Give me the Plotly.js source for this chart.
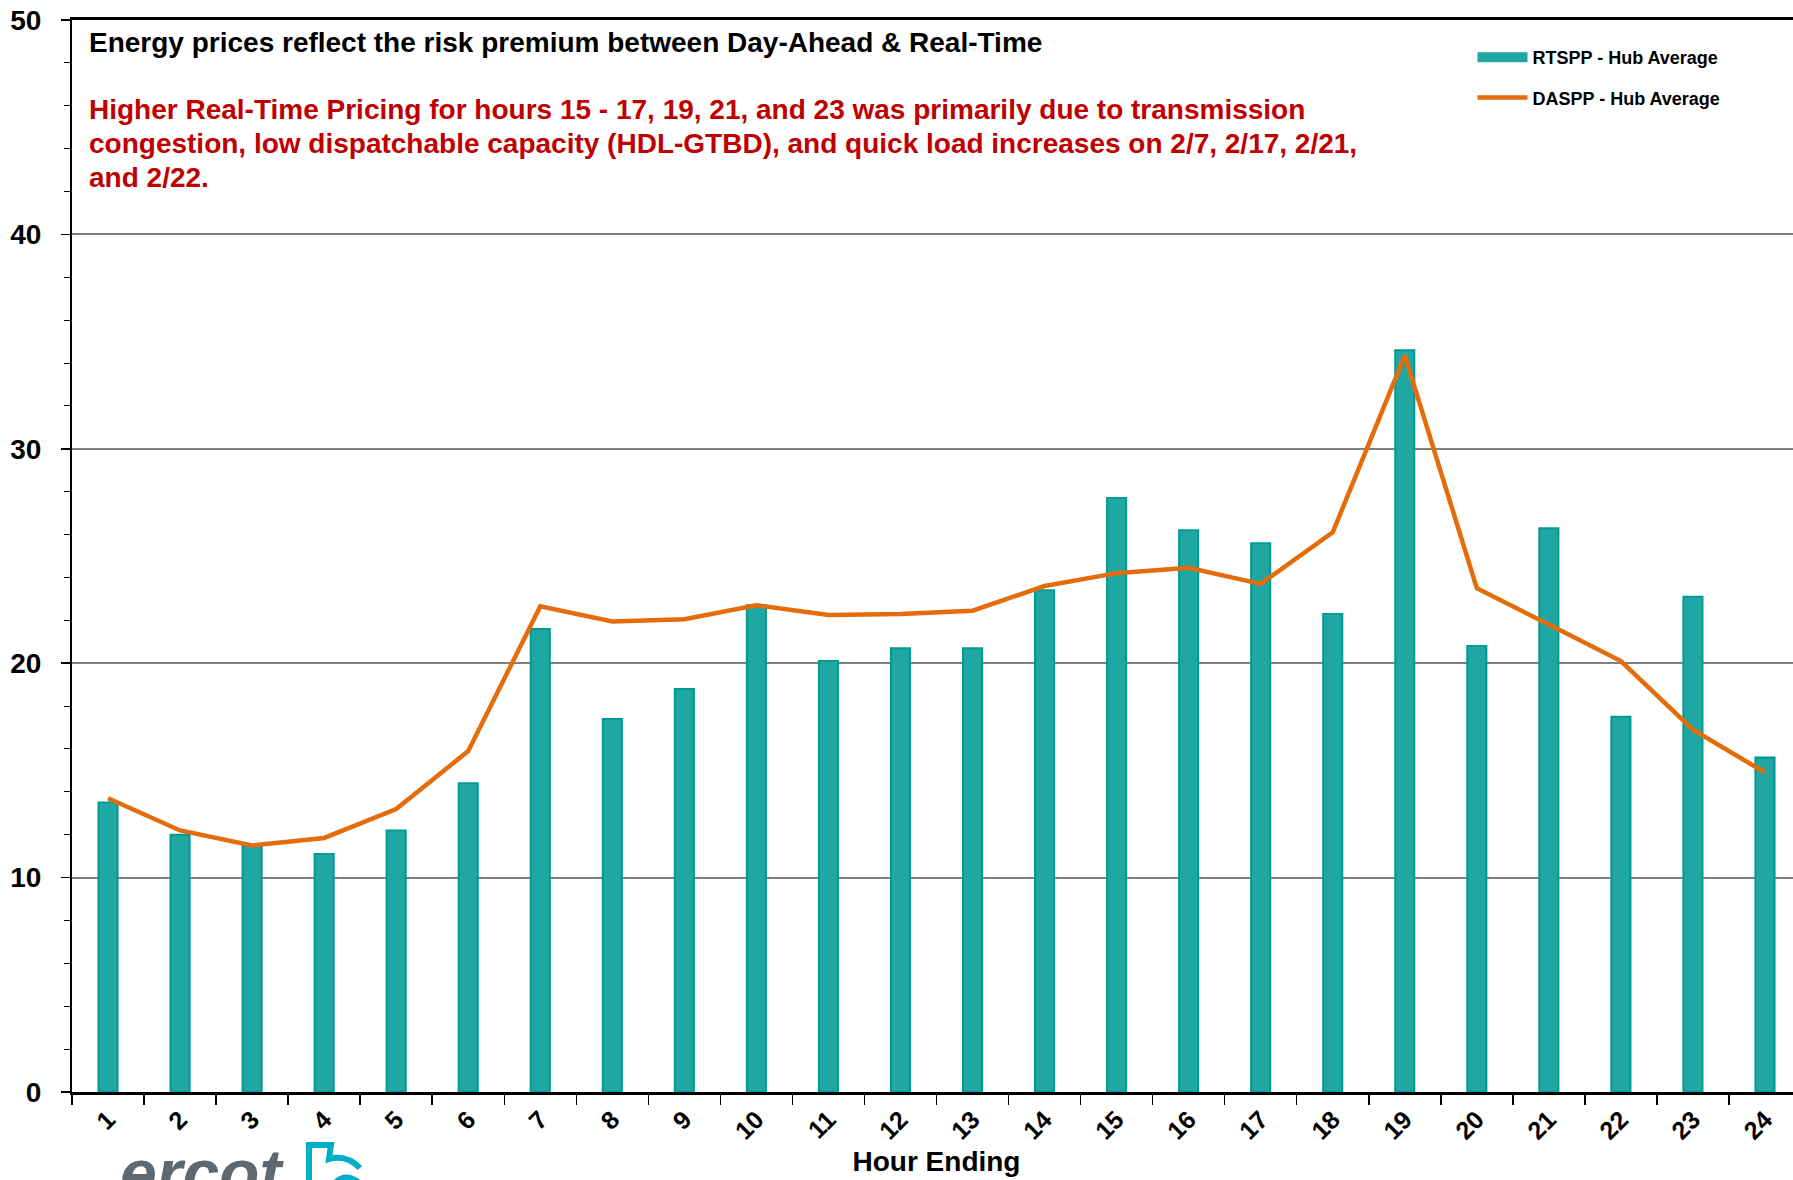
<!DOCTYPE html>
<html>
<head>
<meta charset="utf-8">
<script src="https://cdn.plot.ly/plotly-3.0.1.min.js"></script>
<style>
  html, body { margin: 0; padding: 0; overflow: hidden; background: white; }
  #chart { width: 1810px; height: 1180px; }
</style>
</head>
<body>
<div id="chart"></div>
<script>
// Hour ending categories
const hours = ['1','2','3','4','5','6','7','8','9','10','11','12','13','14','15','16','17','18','19','20','21','22','23','24'];

// Real-time settlement point price, hub average ($/MWh)
const rtsppHubAvg = [13.5, 12.0, 11.5, 11.1, 12.2, 14.4, 21.6, 17.4, 18.8, 22.7, 20.1, 20.7,
                     20.7, 23.4, 27.7, 26.2, 25.6, 22.3, 34.6, 20.8, 26.3, 17.5, 23.1, 15.6];

// Day-ahead settlement point price, hub average ($/MWh)
const dasppHubAvg = [13.7, 12.2, 11.5, 11.85, 13.2, 15.9, 22.65, 21.95, 22.05, 22.7, 22.25, 22.3,
                     22.45, 23.6, 24.2, 24.45, 23.7, 26.1, 34.35, 23.5, 21.8, 20.1, 16.9, 14.9];

const headline = 'Energy prices reflect the risk premium between Day-Ahead & Real-Time';
const noteLines = [
    'Higher Real-Time Pricing for hours 15 - 17, 19, 21, and 23 was primarily due to transmission',
    'congestion, low dispatchable capacity (HDL-GTBD), and quick load increases on 2/7, 2/17, 2/21,',
    'and 2/22.'
];

const FONT = 'Arial, "Liberation Sans", sans-serif';
const TEAL = '#20A7A3';

const traces = [
    {
        x: hours,
        y: rtsppHubAvg,
        type: 'bar',
        name: 'RTSPP - Hub Average',
        showlegend: false,
        marker: {
            color: TEAL,
            line: { color: '#009A94', width: 2 }
        }
    },
    // legend-only entry so the key shows a wide bar like the original
    {
        x: [null],
        y: [null],
        type: 'scatter',
        mode: 'lines',
        name: 'RTSPP - Hub Average',
        legendgroup: 'rt',
        line: { color: TEAL, width: 12 }
    },
    {
        x: hours,
        y: dasppHubAvg,
        type: 'scatter',
        mode: 'lines',
        name: 'DASPP - Hub Average',
        legendgroup: 'da',
        line: { color: '#E46C0A', width: 4.5 }
    }
];

// plot area: left 72px, top 20px, bottom 1092px (height 1072), width 1729
const toPaperX = px => (px - 72) / 1729;
const toPaperY = px => 1 - (px - 20) / 1072;

const annotations = [
    {
        xref: 'paper', yref: 'paper',
        x: 0.0087, y: toPaperY(42), xanchor: 'left', yanchor: 'middle',
        text: '<b>' + headline + '</b>',
        showarrow: false,
        font: { family: FONT, size: 28, color: '#000000' }
    }
];
noteLines.forEach((line, i) => {
    annotations.push({
        xref: 'paper', yref: 'paper',
        x: 0.0087, y: toPaperY(109 + i * 34.3), xanchor: 'left', yanchor: 'middle',
        text: '<b>' + line + '</b>',
        showarrow: false,
        font: { family: FONT, size: 28, color: '#C00000' }
    });
});
// ercot logo text, cut off at the bottom edge as in the source
annotations.push({
    xref: 'paper', yref: 'paper',
    x: toPaperX(118), y: toPaperY(1134), xanchor: 'left', yanchor: 'top',
    text: '<i><b>ercot</b></i>',
    showarrow: false,
    font: { family: FONT, size: 66, color: '#5E6870' }
});

// logo mark next to the word
const logoPts = [[309, 1182], [309, 1145], [331, 1145], [329, 1159]];
let logoPath = 'M ' + logoPts.map(p => toPaperX(p[0]) + ',' + toPaperY(p[1])).join(' L ');
logoPath += ' Q ' + toPaperX(346) + ',' + toPaperY(1154) + ' ' + toPaperX(360) + ',' + toPaperY(1168);
const logoPath2 = 'M ' + toPaperX(336) + ',' + toPaperY(1182) + ' Q ' + toPaperX(346) + ',' + toPaperY(1173) +
    ' ' + toPaperX(358) + ',' + toPaperY(1182);

const layout = {
    width: 1810,
    height: 1180,
    margin: { t: 20, r: 9, b: 88, l: 72 },
    plot_bgcolor: 'white',
    paper_bgcolor: 'white',
    bargap: 0.735,
    showlegend: true,
    legend: {
        x: 0.81, y: toPaperY(39),
        xanchor: 'left', yanchor: 'top',
        bgcolor: 'rgba(0,0,0,0)',
        traceorder: 'grouped',
        tracegroupgap: 14,
        font: { family: FONT, size: 18, color: '#000000', weight: 'bold' },
        itemwidth: 50
    },
    xaxis: {
        type: 'category',
        tickson: 'boundaries',
        ticks: 'outside',
        ticklen: 10,
        tickwidth: 1.5,
        tickcolor: '#000000',
        tickangle: -45,
        tickfont: { family: FONT, size: 25, color: '#000000', weight: 'bold' },
        showline: true,
        linecolor: '#000000',
        linewidth: 3,
        mirror: true,
        showgrid: false,
        title: {
            text: 'Hour Ending',
            font: { family: FONT, size: 28, color: '#000000', weight: 'bold' },
            standoff: 8
        }
    },
    yaxis: {
        range: [0, 50],
        dtick: 10,
        ticks: 'outside',
        ticklen: 9,
        tickwidth: 1.5,
        tickcolor: '#000000',
        tickfont: { family: FONT, size: 28, color: '#000000', weight: 'bold' },
        ticklabelstandoff: 14,
        showline: true,
        linecolor: '#000000',
        linewidth: 2,
        mirror: true,
        showgrid: true,
        gridcolor: '#808080',
        gridwidth: 2,
        zeroline: false,
        minor: {
            dtick: 2,
            ticks: 'outside',
            ticklen: 6,
            tickcolor: '#000000',
            tickwidth: 1,
            showgrid: false
        }
    },
    shapes: [
        { type: 'path', xref: 'paper', yref: 'paper', path: logoPath,
          line: { color: '#00AEC9', width: 6 } },
        { type: 'path', xref: 'paper', yref: 'paper', path: logoPath2,
          line: { color: '#00AEC9', width: 6 } }
    ],
    annotations: annotations
};

Plotly.newPlot('chart', traces, layout, { staticPlot: true, displayModeBar: false });
</script>
</body>
</html>
